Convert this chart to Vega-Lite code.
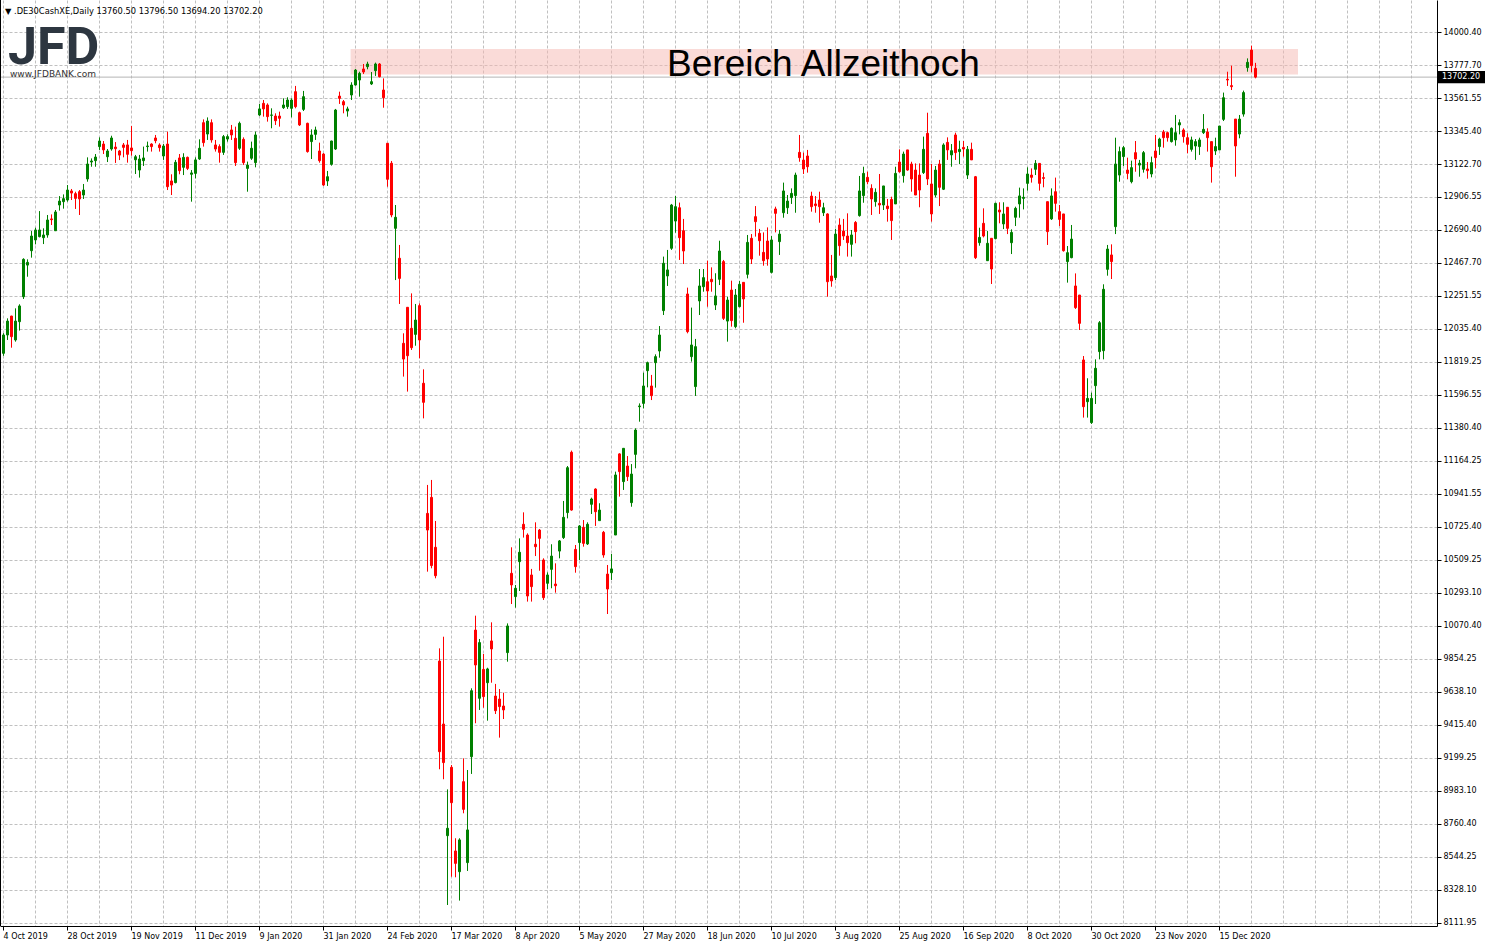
{
"$schema": "https://vega.github.io/schema/vega-lite/v6.json",
"width": 1437,
"height": 926,
"autosize": {"type": "none"},
"padding": {"left": 0, "top": 0, "right": 51, "bottom": 21},
"background": "white",
"config": {"view": {"stroke": null}, "scale": {"continuousPadding": 0}},
"datasets": {
"bars": [
{"i":0,"o":11877,"h":12010,"l":11860,"c":11998},
{"i":1,"o":11998,"h":12108,"l":11965,"c":12090},
{"i":2,"o":12123,"h":12125,"l":11914,"c":11987},
{"i":3,"o":11965,"h":12174,"l":11954,"c":12090},
{"i":4,"o":12086,"h":12201,"l":12027,"c":12190},
{"i":5,"o":12251,"h":12505,"l":12236,"c":12498},
{"i":6,"o":12460,"h":12498,"l":12383,"c":12478},
{"i":7,"o":12555,"h":12685,"l":12509,"c":12652},
{"i":8,"o":12626,"h":12707,"l":12597,"c":12692},
{"i":9,"o":12648,"h":12817,"l":12643,"c":12692},
{"i":10,"o":12641,"h":12703,"l":12599,"c":12659},
{"i":11,"o":12659,"h":12791,"l":12641,"c":12758},
{"i":12,"o":12765,"h":12795,"l":12725,"c":12760},
{"i":13,"o":12687,"h":12824,"l":12687,"c":12811},
{"i":14,"o":12857,"h":12916,"l":12820,"c":12883},
{"i":15,"o":12879,"h":12927,"l":12833,"c":12899},
{"i":16,"o":12890,"h":12989,"l":12879,"c":12956},
{"i":17,"o":12950,"h":12963,"l":12890,"c":12936},
{"i":18,"o":12932,"h":12945,"l":12831,"c":12901},
{"i":19,"o":12945,"h":12956,"l":12791,"c":12897},
{"i":20,"o":12923,"h":12996,"l":12897,"c":12956},
{"i":21,"o":13029,"h":13172,"l":13011,"c":13128},
{"i":22,"o":13141,"h":13165,"l":13110,"c":13148},
{"i":23,"o":13150,"h":13194,"l":13110,"c":13174},
{"i":24,"o":13243,"h":13304,"l":13221,"c":13280},
{"i":25,"o":13260,"h":13280,"l":13194,"c":13221},
{"i":26,"o":13176,"h":13227,"l":13141,"c":13214},
{"i":27,"o":13227,"h":13315,"l":13216,"c":13300},
{"i":28,"o":13240,"h":13273,"l":13135,"c":13229},
{"i":29,"o":13214,"h":13221,"l":13154,"c":13187},
{"i":30,"o":13254,"h":13267,"l":13172,"c":13238},
{"i":31,"o":13254,"h":13287,"l":13137,"c":13192},
{"i":32,"o":13234,"h":13379,"l":13183,"c":13216},
{"i":33,"o":13156,"h":13188,"l":13062,"c":13176},
{"i":34,"o":13088,"h":13188,"l":13038,"c":13161},
{"i":35,"o":13150,"h":13243,"l":13115,"c":13168},
{"i":36,"o":13243,"h":13276,"l":13210,"c":13247},
{"i":37,"o":13260,"h":13265,"l":13210,"c":13243},
{"i":38,"o":13300,"h":13320,"l":13265,"c":13282},
{"i":39,"o":13254,"h":13265,"l":13210,"c":13236},
{"i":40,"o":13181,"h":13260,"l":13155,"c":13247},
{"i":41,"o":13260,"h":13342,"l":12956,"c":12978},
{"i":42,"o":13016,"h":13060,"l":12923,"c":12989},
{"i":43,"o":13005,"h":13155,"l":13000,"c":13139},
{"i":44,"o":13168,"h":13194,"l":13060,"c":13084},
{"i":45,"o":13106,"h":13199,"l":13055,"c":13172},
{"i":46,"o":13172,"h":13177,"l":13088,"c":13099},
{"i":47,"o":13060,"h":13088,"l":12879,"c":13069},
{"i":48,"o":13066,"h":13172,"l":13033,"c":13155},
{"i":49,"o":13161,"h":13291,"l":13155,"c":13232},
{"i":50,"o":13401,"h":13423,"l":13243,"c":13269},
{"i":51,"o":13326,"h":13436,"l":13287,"c":13412},
{"i":52,"o":13401,"h":13423,"l":13269,"c":13287},
{"i":53,"o":13254,"h":13287,"l":13210,"c":13227},
{"i":54,"o":13243,"h":13258,"l":13137,"c":13205},
{"i":55,"o":13205,"h":13320,"l":13188,"c":13309},
{"i":56,"o":13293,"h":13324,"l":13276,"c":13309},
{"i":57,"o":13353,"h":13386,"l":13287,"c":13320},
{"i":58,"o":13298,"h":13375,"l":13115,"c":13137},
{"i":59,"o":13232,"h":13408,"l":13221,"c":13397},
{"i":60,"o":13291,"h":13304,"l":13122,"c":13137},
{"i":61,"o":13099,"h":13144,"l":12945,"c":13121},
{"i":62,"o":13166,"h":13276,"l":13155,"c":13232},
{"i":63,"o":13137,"h":13342,"l":13106,"c":13320},
{"i":64,"o":13452,"h":13525,"l":13445,"c":13492},
{"i":65,"o":13529,"h":13551,"l":13441,"c":13492},
{"i":66,"o":13518,"h":13529,"l":13408,"c":13441},
{"i":67,"o":13450,"h":13496,"l":13364,"c":13452},
{"i":68,"o":13445,"h":13463,"l":13386,"c":13414},
{"i":69,"o":13445,"h":13474,"l":13375,"c":13430},
{"i":70,"o":13500,"h":13562,"l":13492,"c":13518},
{"i":71,"o":13507,"h":13569,"l":13492,"c":13551},
{"i":72,"o":13496,"h":13562,"l":13436,"c":13551},
{"i":73,"o":13606,"h":13644,"l":13496,"c":13507},
{"i":74,"o":13467,"h":13474,"l":13379,"c":13386},
{"i":75,"o":13489,"h":13611,"l":13478,"c":13573},
{"i":76,"o":13397,"h":13401,"l":13203,"c":13210},
{"i":77,"o":13276,"h":13357,"l":13161,"c":13320},
{"i":78,"o":13324,"h":13375,"l":13287,"c":13353},
{"i":79,"o":13214,"h":13269,"l":13137,"c":13150},
{"i":80,"o":13194,"h":13200,"l":12983,"c":12989},
{"i":81,"o":13016,"h":13082,"l":12983,"c":13044},
{"i":82,"o":13126,"h":13282,"l":13117,"c":13280},
{"i":83,"o":13227,"h":13492,"l":13221,"c":13485},
{"i":84,"o":13577,"h":13606,"l":13525,"c":13562},
{"i":85,"o":13540,"h":13551,"l":13463,"c":13518},
{"i":86,"o":13478,"h":13507,"l":13441,"c":13492},
{"i":87,"o":13584,"h":13668,"l":13551,"c":13650},
{"i":88,"o":13650,"h":13756,"l":13646,"c":13749},
{"i":89,"o":13683,"h":13738,"l":13573,"c":13727},
{"i":90,"o":13756,"h":13789,"l":13723,"c":13736},
{"i":91,"o":13771,"h":13804,"l":13754,"c":13789},
{"i":92,"o":13657,"h":13736,"l":13650,"c":13672},
{"i":93,"o":13745,"h":13798,"l":13710,"c":13789},
{"i":94,"o":13789,"h":13795,"l":13700,"c":13705},
{"i":95,"o":13617,"h":13694,"l":13500,"c":13566},
{"i":96,"o":13265,"h":13265,"l":12978,"c":13027},
{"i":97,"o":13133,"h":13148,"l":12776,"c":12791},
{"i":98,"o":12703,"h":12857,"l":12361,"c":12776},
{"i":99,"o":12505,"h":12593,"l":12203,"c":12372},
{"i":100,"o":11943,"h":12009,"l":11723,"c":11839},
{"i":101,"o":12181,"h":12181,"l":11624,"c":11861},
{"i":102,"o":12042,"h":12273,"l":11899,"c":11914},
{"i":103,"o":12002,"h":12203,"l":11927,"c":12097},
{"i":104,"o":12192,"h":12207,"l":11844,"c":11965},
{"i":105,"o":11679,"h":11771,"l":11447,"c":11553},
{"i":106,"o":10819,"h":11007,"l":10434,"c":10709},
{"i":107,"o":10925,"h":11040,"l":10456,"c":10474},
{"i":108,"o":10595,"h":10769,"l":10390,"c":10407},
{"i":109,"o":9843,"h":9927,"l":9128,"c":9244},
{"i":110,"o":9427,"h":10004,"l":9062,"c":9172},
{"i":111,"o":8689,"h":8995,"l":8231,"c":8738},
{"i":112,"o":9141,"h":9156,"l":8418,"c":8907},
{"i":113,"o":8588,"h":8672,"l":8414,"c":8506},
{"i":114,"o":8451,"h":8672,"l":8260,"c":8661},
{"i":115,"o":9046,"h":9200,"l":8837,"c":8863},
{"i":116,"o":8511,"h":9123,"l":8456,"c":8727},
{"i":117,"o":9211,"h":9663,"l":9097,"c":9647},
{"i":118,"o":10048,"h":10143,"l":9432,"c":9817},
{"i":119,"o":9597,"h":9989,"l":9520,"c":9965},
{"i":120,"o":9788,"h":9890,"l":9535,"c":9608},
{"i":121,"o":9700,"h":9799,"l":9449,"c":9791},
{"i":122,"o":9976,"h":10099,"l":9700,"c":9923},
{"i":123,"o":9612,"h":9692,"l":9493,"c":9515},
{"i":124,"o":9592,"h":9658,"l":9337,"c":9542},
{"i":125,"o":9546,"h":9634,"l":9460,"c":9520},
{"i":126,"o":9899,"h":10092,"l":9839,"c":10075},
{"i":127,"o":10423,"h":10595,"l":10220,"c":10346},
{"i":128,"o":10269,"h":10346,"l":10196,"c":10324},
{"i":129,"o":10500,"h":10654,"l":10306,"c":10562},
{"i":130,"o":10747,"h":10826,"l":10659,"c":10714},
{"i":131,"o":10676,"h":10687,"l":10236,"c":10273},
{"i":132,"o":10412,"h":10452,"l":10236,"c":10335},
{"i":133,"o":10615,"h":10760,"l":10537,"c":10599},
{"i":134,"o":10709,"h":10716,"l":10440,"c":10654},
{"i":135,"o":10511,"h":10522,"l":10247,"c":10262},
{"i":136,"o":10357,"h":10429,"l":10317,"c":10412},
{"i":137,"o":10449,"h":10615,"l":10324,"c":10537},
{"i":138,"o":10352,"h":10489,"l":10295,"c":10341},
{"i":139,"o":10570,"h":10643,"l":10522,"c":10637},
{"i":140,"o":10659,"h":10901,"l":10650,"c":10793},
{"i":141,"o":10824,"h":11132,"l":10786,"c":11121},
{"i":142,"o":11223,"h":11234,"l":10837,"c":10841},
{"i":143,"o":10581,"h":10610,"l":10427,"c":10467},
{"i":144,"o":10626,"h":10742,"l":10511,"c":10736},
{"i":145,"o":10727,"h":10775,"l":10599,"c":10621},
{"i":146,"o":10617,"h":10760,"l":10610,"c":10747},
{"i":147,"o":10879,"h":10923,"l":10815,"c":10914},
{"i":148,"o":10980,"h":10985,"l":10736,"c":10830},
{"i":149,"o":10771,"h":10886,"l":10771,"c":10841},
{"i":150,"o":10694,"h":10703,"l":10526,"c":10544},
{"i":151,"o":10418,"h":10478,"l":10154,"c":10319},
{"i":152,"o":10427,"h":10551,"l":10379,"c":10452},
{"i":153,"o":10676,"h":11095,"l":10676,"c":11073},
{"i":154,"o":11212,"h":11216,"l":10930,"c":11095},
{"i":155,"o":11029,"h":11249,"l":10974,"c":11249},
{"i":156,"o":11132,"h":11198,"l":11033,"c":11062},
{"i":157,"o":10890,"h":11145,"l":10863,"c":11079},
{"i":158,"o":11209,"h":11381,"l":11117,"c":11370},
{"i":159,"o":11524,"h":11546,"l":11425,"c":11529},
{"i":160,"o":11546,"h":11749,"l":11513,"c":11661},
{"i":161,"o":11762,"h":11822,"l":11652,"c":11815},
{"i":162,"o":11661,"h":11734,"l":11568,"c":11597},
{"i":163,"o":11815,"h":11870,"l":11650,"c":11855},
{"i":164,"o":11892,"h":12057,"l":11848,"c":11998},
{"i":165,"o":12159,"h":12516,"l":12130,"c":12472},
{"i":166,"o":12388,"h":12560,"l":12322,"c":12428},
{"i":167,"o":12571,"h":12864,"l":12560,"c":12857},
{"i":168,"o":12751,"h":12917,"l":12674,"c":12846},
{"i":169,"o":12839,"h":12873,"l":12494,"c":12641},
{"i":170,"o":12687,"h":12765,"l":12467,"c":12553},
{"i":171,"o":12269,"h":12311,"l":12009,"c":12020},
{"i":172,"o":11855,"h":12179,"l":11822,"c":11932},
{"i":173,"o":11657,"h":11972,"l":11595,"c":11921},
{"i":174,"o":12223,"h":12434,"l":12130,"c":12322},
{"i":175,"o":12317,"h":12434,"l":12284,"c":12377},
{"i":176,"o":12350,"h":12489,"l":12185,"c":12289},
{"i":177,"o":12366,"h":12445,"l":12284,"c":12350},
{"i":178,"o":12196,"h":12406,"l":12163,"c":12256},
{"i":179,"o":12366,"h":12621,"l":12328,"c":12553},
{"i":180,"o":12483,"h":12494,"l":12097,"c":12108},
{"i":181,"o":12090,"h":12251,"l":11954,"c":12229},
{"i":182,"o":12295,"h":12357,"l":12053,"c":12093},
{"i":183,"o":12053,"h":12302,"l":12042,"c":12262},
{"i":184,"o":12185,"h":12355,"l":12181,"c":12333},
{"i":185,"o":12346,"h":12346,"l":12079,"c":12236},
{"i":186,"o":12399,"h":12659,"l":12372,"c":12610},
{"i":187,"o":12637,"h":12665,"l":12467,"c":12500},
{"i":188,"o":12780,"h":12850,"l":12648,"c":12747},
{"i":189,"o":12670,"h":12699,"l":12522,"c":12621},
{"i":190,"o":12544,"h":12676,"l":12456,"c":12489},
{"i":191,"o":12619,"h":12709,"l":12456,"c":12500},
{"i":192,"o":12412,"h":12652,"l":12405,"c":12626},
{"i":193,"o":12831,"h":12846,"l":12676,"c":12802},
{"i":194,"o":12615,"h":12692,"l":12527,"c":12665},
{"i":195,"o":12806,"h":13005,"l":12773,"c":12950},
{"i":196,"o":12839,"h":12923,"l":12798,"c":12883},
{"i":197,"o":12906,"h":12967,"l":12864,"c":12934},
{"i":198,"o":12919,"h":13071,"l":12806,"c":13055},
{"i":199,"o":13205,"h":13320,"l":13143,"c":13170},
{"i":200,"o":13154,"h":13203,"l":13062,"c":13095},
{"i":201,"o":13181,"h":13221,"l":13071,"c":13110},
{"i":202,"o":12916,"h":12945,"l":12813,"c":12846},
{"i":203,"o":12864,"h":12916,"l":12806,"c":12853},
{"i":204,"o":12890,"h":12945,"l":12740,"c":12846},
{"i":205,"o":12806,"h":12872,"l":12784,"c":12839},
{"i":206,"o":12798,"h":12802,"l":12251,"c":12350},
{"i":207,"o":12388,"h":12527,"l":12317,"c":12355},
{"i":208,"o":12377,"h":12699,"l":12361,"c":12665},
{"i":209,"o":12725,"h":12769,"l":12522,"c":12588},
{"i":210,"o":12685,"h":12765,"l":12626,"c":12652},
{"i":211,"o":12652,"h":12802,"l":12516,"c":12608},
{"i":212,"o":12597,"h":12692,"l":12516,"c":12659},
{"i":213,"o":12742,"h":12751,"l":12604,"c":12681},
{"i":214,"o":12787,"h":13049,"l":12780,"c":12950},
{"i":215,"o":12919,"h":13110,"l":12872,"c":13066},
{"i":216,"o":13040,"h":13077,"l":12994,"c":13011},
{"i":217,"o":12967,"h":12994,"l":12791,"c":12897},
{"i":218,"o":12879,"h":12967,"l":12846,"c":12941},
{"i":219,"o":12868,"h":13062,"l":12798,"c":12857},
{"i":220,"o":12857,"h":12983,"l":12824,"c":12983},
{"i":221,"o":12850,"h":12897,"l":12747,"c":12833},
{"i":222,"o":12894,"h":12912,"l":12626,"c":12754},
{"i":223,"o":12864,"h":13110,"l":12864,"c":13066},
{"i":224,"o":13141,"h":13225,"l":13071,"c":13077},
{"i":225,"o":13051,"h":13210,"l":13005,"c":13194},
{"i":226,"o":13221,"h":13221,"l":13084,"c":13088},
{"i":227,"o":13128,"h":13143,"l":12945,"c":13029},
{"i":228,"o":13088,"h":13132,"l":12923,"c":12923},
{"i":229,"o":13055,"h":13132,"l":12842,"c":12956},
{"i":230,"o":13071,"h":13309,"l":13062,"c":13225},
{"i":231,"o":13331,"h":13467,"l":12989,"c":13029},
{"i":232,"o":12996,"h":13128,"l":12747,"c":12798},
{"i":233,"o":12923,"h":13115,"l":12908,"c":13088},
{"i":234,"o":13128,"h":13155,"l":12850,"c":12974},
{"i":235,"o":12961,"h":13265,"l":12956,"c":13254},
{"i":236,"o":13271,"h":13304,"l":13155,"c":13221},
{"i":237,"o":13188,"h":13260,"l":13110,"c":13216},
{"i":238,"o":13320,"h":13335,"l":13155,"c":13203},
{"i":239,"o":13210,"h":13282,"l":13128,"c":13225},
{"i":240,"o":13238,"h":13280,"l":13177,"c":13227},
{"i":241,"o":13055,"h":13247,"l":13029,"c":13225},
{"i":242,"o":13225,"h":13269,"l":13155,"c":13155},
{"i":243,"o":13044,"h":13049,"l":12500,"c":12509},
{"i":244,"o":12608,"h":12707,"l":12588,"c":12643},
{"i":245,"o":12736,"h":12835,"l":12643,"c":12652},
{"i":246,"o":12489,"h":12685,"l":12489,"c":12604},
{"i":247,"o":12637,"h":12637,"l":12335,"c":12434},
{"i":248,"o":12635,"h":12872,"l":12630,"c":12868},
{"i":249,"o":12824,"h":12875,"l":12736,"c":12811},
{"i":250,"o":12732,"h":12875,"l":12698,"c":12798},
{"i":251,"o":12842,"h":12842,"l":12665,"c":12703},
{"i":252,"o":12608,"h":12696,"l":12533,"c":12676},
{"i":253,"o":12776,"h":12846,"l":12718,"c":12835},
{"i":254,"o":12864,"h":12972,"l":12773,"c":12917},
{"i":255,"o":12901,"h":12967,"l":12828,"c":12908},
{"i":256,"o":13000,"h":13106,"l":12952,"c":13062},
{"i":257,"o":13055,"h":13099,"l":13005,"c":13040},
{"i":258,"o":13093,"h":13154,"l":13055,"c":13132},
{"i":259,"o":13132,"h":13132,"l":12952,"c":13000},
{"i":260,"o":13038,"h":13071,"l":12974,"c":13033},
{"i":261,"o":12879,"h":12879,"l":12593,"c":12681},
{"i":262,"o":12765,"h":12967,"l":12758,"c":12917},
{"i":263,"o":12945,"h":13038,"l":12813,"c":12868},
{"i":264,"o":12813,"h":12857,"l":12718,"c":12762},
{"i":265,"o":12798,"h":12798,"l":12549,"c":12555},
{"i":266,"o":12483,"h":12586,"l":12344,"c":12542},
{"i":267,"o":12509,"h":12725,"l":12505,"c":12632},
{"i":268,"o":12322,"h":12405,"l":12170,"c":12179},
{"i":269,"o":12262,"h":12262,"l":12031,"c":12075},
{"i":270,"o":11833,"h":11859,"l":11452,"c":11524},
{"i":271,"o":11557,"h":11712,"l":11452,"c":11579},
{"i":272,"o":11419,"h":11617,"l":11410,"c":11579},
{"i":273,"o":11663,"h":11837,"l":11542,"c":11778},
{"i":274,"o":11888,"h":12090,"l":11837,"c":12079},
{"i":275,"o":11894,"h":12333,"l":11837,"c":12300},
{"i":276,"o":12432,"h":12593,"l":12390,"c":12566},
{"i":277,"o":12527,"h":12597,"l":12368,"c":12483},
{"i":278,"o":12714,"h":13302,"l":12665,"c":13128},
{"i":279,"o":13055,"h":13243,"l":13011,"c":13210},
{"i":280,"o":13177,"h":13247,"l":13115,"c":13236},
{"i":281,"o":13088,"h":13170,"l":13027,"c":13066},
{"i":282,"o":13011,"h":13150,"l":13000,"c":13104},
{"i":283,"o":13203,"h":13280,"l":13077,"c":13161},
{"i":284,"o":13121,"h":13155,"l":13044,"c":13133},
{"i":285,"o":13093,"h":13214,"l":13071,"c":13203},
{"i":286,"o":13095,"h":13141,"l":13031,"c":13084},
{"i":287,"o":13062,"h":13177,"l":13040,"c":13137},
{"i":288,"o":13214,"h":13320,"l":13099,"c":13170},
{"i":289,"o":13243,"h":13302,"l":13188,"c":13293},
{"i":290,"o":13340,"h":13353,"l":13236,"c":13302},
{"i":291,"o":13335,"h":13342,"l":13276,"c":13302},
{"i":292,"o":13276,"h":13370,"l":13270,"c":13364},
{"i":293,"o":13287,"h":13452,"l":13249,"c":13335},
{"i":294,"o":13386,"h":13423,"l":13324,"c":13401},
{"i":295,"o":13353,"h":13364,"l":13269,"c":13309},
{"i":296,"o":13302,"h":13331,"l":13199,"c":13258},
{"i":297,"o":13225,"h":13309,"l":13210,"c":13287},
{"i":298,"o":13247,"h":13293,"l":13155,"c":13276},
{"i":299,"o":13243,"h":13302,"l":13188,"c":13287},
{"i":300,"o":13335,"h":13458,"l":13326,"c":13357},
{"i":301,"o":13340,"h":13364,"l":13210,"c":13302},
{"i":302,"o":13276,"h":13276,"l":13005,"c":13110},
{"i":303,"o":13214,"h":13302,"l":13188,"c":13243},
{"i":304,"o":13221,"h":13379,"l":13221,"c":13379},
{"i":305,"o":13423,"h":13600,"l":13412,"c":13566},
{"i":306,"o":13688,"h":13738,"l":13644,"c":13683},
{"i":307,"o":13646,"h":13778,"l":13617,"c":13639},
{"i":308,"o":13425,"h":13425,"l":13044,"c":13247},
{"i":309,"o":13326,"h":13452,"l":13298,"c":13425},
{"i":310,"o":13458,"h":13613,"l":13441,"c":13600},
{"i":311,"o":13765,"h":13826,"l":13738,"c":13800},
{"i":312,"o":13881,"h":13910,"l":13734,"c":13778},
{"i":313,"o":13760.5,"h":13796.5,"l":13694.2,"c":13702.2}
],
"one": [{}]
},
"layer": [
{
"data": {"name": "one"},
"mark": {"type": "rect", "fill": "#f5b7b1", "opacity": 0.5},
"encoding": {
"x": {"datum": 86.9, "type": "quantitative", "title": null,
"scale": {"domain": [-0.75, 358.5], "nice": false, "zero": false, "padding": 0},
"axis": {
"values": [0,8,16,24,32,40,48,56,64,72,80,88,96,104,112,120,128,136,144,152,160,168,176,184,192,200,208,216,224,232,240,248,256,264,272,280,288,296,304,312,320,328,336,344,352],
"tickCount": 1000,
"title": null,
"grid": true, "gridColor": "#c0c0c0", "gridDash": [3, 2], "gridWidth": 1,
"domain": true, "domainColor": "black", "domainWidth": 1,
"ticks": true, "tickSize": 4, "tickColor": "black", "tickWidth": 1,
"tickOpacity": {"condition": {"test": "datum.value % 16 == 0 && datum.value <= 304", "value": 1}, "value": 0},
"labelExpr": "datum.value % 16 == 0 && datum.value <= 304 ? ['4 Oct 2019','28 Oct 2019','19 Nov 2019','11 Dec 2019','9 Jan 2020','31 Jan 2020','24 Feb 2020','17 Mar 2020','8 Apr 2020','5 May 2020','27 May 2020','18 Jun 2020','10 Jul 2020','3 Aug 2020','25 Aug 2020','16 Sep 2020','8 Oct 2020','30 Oct 2020','23 Nov 2020','15 Dec 2020'][datum.value / 16] : ''",
"labelAlign": "left", "labelBaseline": "top", "labelPadding": 2,
"labelFont": "DejaVu Sans", "labelFontSize": 8, "labelColor": "black",
"labelOverlap": false, "labelFlush": false, "labelBound": false
}},
"x2": {"datum": 323.75},
"y": {"datum": 13888, "type": "quantitative", "title": null,
"scale": {"domain": [8092.124, 14211.882], "nice": false, "zero": false, "padding": 0},
"axis": {
"orient": "right",
"values": [14000.4,13782.3093,13564.2186,13346.1279,13128.0372,12909.9465,12691.8558,12473.7651,12255.6744,12037.5837,11819.493,11601.4023,11383.3116,11165.2209,10947.1302,10729.0395,10510.9488,10292.8581,10074.7674,9856.6767,9638.586,9420.4953,9202.4046,8984.3139,8766.2232,8548.1325,8330.0418,8111.9511],
"tickCount": 1000,
"title": null,
"grid": true, "gridColor": "#c0c0c0", "gridDash": [3, 2], "gridWidth": 1,
"domain": true, "domainColor": "black", "domainWidth": 1,
"ticks": true, "tickSize": 4, "tickColor": "black", "tickWidth": 1,
"labelExpr": "['14000.40','13777.70','13561.55','13345.40','13122.70','12906.55','12690.40','12467.70','12251.55','12035.40','11819.25','11596.55','11380.40','11164.25','10941.55','10725.40','10509.25','10293.10','10070.40','9854.25','9638.10','9415.40','9199.25','8983.10','8760.40','8544.25','8328.10','8111.95'][round((14000.4 - datum.value) / 218.0907)]",
"labelAlign": "left", "labelBaseline": "middle", "labelPadding": 2,
"labelFont": "DejaVu Sans", "labelFontSize": 8, "labelColor": "black",
"labelOverlap": false, "labelFlush": false, "labelBound": false
}},
"y2": {"datum": 13720}
}
},
{
"data": {"name": "one"},
"mark": {"type": "rule", "color": "#b4b4b4", "strokeWidth": 1},
"encoding": {
"y": {"datum": 13702.2, "type": "quantitative", "title": null, "scale": {"domain": [8092.124, 14211.882], "nice": false, "zero": false, "padding": 0}}
}
},
{
"data": {"name": "bars"},
"mark": {"type": "rule", "strokeWidth": 1, "xOffset": 0.5},
"encoding": {
"x": {"field": "i", "type": "quantitative", "title": null, "scale": {"domain": [-0.75, 358.5], "nice": false, "zero": false, "padding": 0}},
"y": {"field": "l", "type": "quantitative", "title": null, "scale": {"domain": [8092.124, 14211.882], "nice": false, "zero": false, "padding": 0}},
"y2": {"field": "h"},
"color": {"condition": {"test": "datum.c >= datum.o", "value": "#008000"}, "value": "#ff0000"}
}
},
{
"data": {"name": "bars"},
"mark": {"type": "bar", "size": 2, "strokeWidth": 1, "xOffset": 0.5},
"encoding": {
"x": {"field": "i", "type": "quantitative", "title": null, "scale": {"domain": [-0.75, 358.5], "nice": false, "zero": false, "padding": 0}},
"y": {"field": "o", "type": "quantitative", "title": null, "scale": {"domain": [8092.124, 14211.882], "nice": false, "zero": false, "padding": 0}},
"y2": {"field": "c"},
"fill": {"condition": {"test": "datum.c >= datum.o", "value": "#008000"}, "value": "#ff0000"},
"stroke": {"condition": {"test": "datum.c >= datum.o", "value": "#008000"}, "value": "#ff0000"}
}
},
{
"data": {"name": "one"},
"mark": {"type": "rule", "color": "black", "strokeWidth": 1},
"encoding": {
"x": {"datum": -0.625, "type": "quantitative", "title": null, "scale": {"domain": [-0.75, 358.5], "nice": false, "zero": false, "padding": 0}}
}
},
{
"data": {"name": "one"},
"mark": {"type": "text", "text": "Bereich Allzeithoch", "font": "Liberation Sans", "fontSize": 37, "align": "center", "baseline": "alphabetic", "color": "black"},
"encoding": {
"x": {"datum": 205.1, "type": "quantitative", "title": null, "scale": {"domain": [-0.75, 358.5], "nice": false, "zero": false, "padding": 0}},
"y": {"datum": 13709.6, "type": "quantitative", "title": null, "scale": {"domain": [8092.124, 14211.882], "nice": false, "zero": false, "padding": 0}}
}
},
{
"data": {"name": "one"},
"mark": {"type": "text", "text": "JFD", "font": "Roboto", "fontWeight": "bold", "fontSize": 52, "align": "left", "baseline": "alphabetic", "color": "#2d3640"},
"encoding": {
"x": {"datum": 1.25, "type": "quantitative", "title": null, "scale": {"domain": [-0.75, 358.5], "nice": false, "zero": false, "padding": 0}},
"y": {"datum": 13788.9, "type": "quantitative", "title": null, "scale": {"domain": [8092.124, 14211.882], "nice": false, "zero": false, "padding": 0}}
}
},
{
"data": {"name": "one"},
"mark": {"type": "text", "text": "www.JFDBANK.com", "font": "DejaVu Sans", "fontSize": 9, "align": "left", "baseline": "alphabetic", "color": "#333333"},
"encoding": {
"x": {"datum": 1.75, "type": "quantitative", "title": null, "scale": {"domain": [-0.75, 358.5], "nice": false, "zero": false, "padding": 0}},
"y": {"datum": 13703.0, "type": "quantitative", "title": null, "scale": {"domain": [8092.124, 14211.882], "nice": false, "zero": false, "padding": 0}}
}
},
{
"data": {"name": "one"},
"mark": {"type": "text", "text": "▼ .DE30CashXE,Daily  13760.50 13796.50 13694.20 13702.20", "font": "DejaVu Sans", "fontSize": 8.3, "align": "left", "baseline": "alphabetic", "color": "black"},
"encoding": {
"x": {"datum": 0.5, "type": "quantitative", "title": null, "scale": {"domain": [-0.75, 358.5], "nice": false, "zero": false, "padding": 0}},
"y": {"datum": 14119.4, "type": "quantitative", "title": null, "scale": {"domain": [8092.124, 14211.882], "nice": false, "zero": false, "padding": 0}}
}
},
{
"data": {"name": "one"},
"mark": {"type": "rect", "color": "black"},
"encoding": {
"x": {"datum": 358.75, "type": "quantitative", "title": null, "scale": {"domain": [-0.75, 358.5], "nice": false, "zero": false, "padding": 0}},
"x2": {"datum": 370.5},
"y": {"datum": 13742.2, "type": "quantitative", "title": null, "scale": {"domain": [8092.124, 14211.882], "nice": false, "zero": false, "padding": 0}},
"y2": {"datum": 13662.0}
}
},
{
"data": {"name": "one"},
"mark": {"type": "text", "text": "13702.20", "font": "DejaVu Sans", "fontSize": 8, "align": "left", "baseline": "middle", "color": "white"},
"encoding": {
"x": {"datum": 359.75, "type": "quantitative", "title": null, "scale": {"domain": [-0.75, 358.5], "nice": false, "zero": false, "padding": 0}},
"y": {"datum": 13702.2, "type": "quantitative", "title": null, "scale": {"domain": [8092.124, 14211.882], "nice": false, "zero": false, "padding": 0}}
}
}
]
}
